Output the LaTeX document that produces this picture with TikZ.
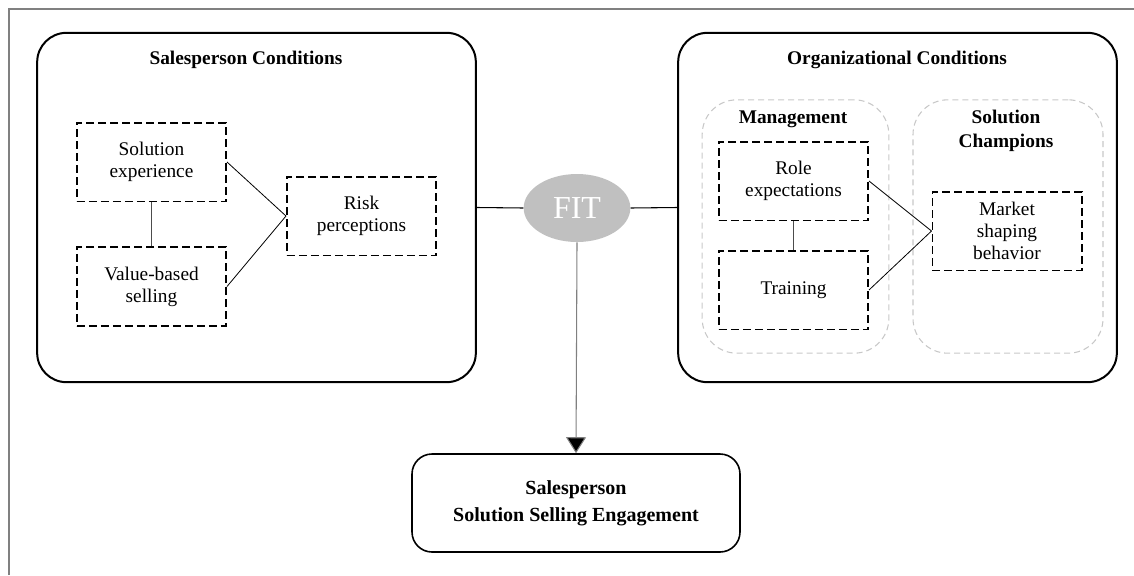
\documentclass[tikz,border=0pt]{standalone}
\usepackage{fontspec}
\setmainfont{Liberation Serif}
\usetikzlibrary{shapes.geometric,arrows.meta}
\definecolor{fitgray}{RGB}{192,192,192}
\definecolor{grouplines}{RGB}{200,200,200}
\tikzset{frame/.style={draw=black, line width=1.5pt, rounded corners=22pt, minimum width=329pt, minimum height=262pt},
factor/.style={draw=black, dash pattern=on 6pt off 3pt, line width=1.25pt, minimum width=112pt, minimum height=59pt, align=center, font=\fontsize{14.5}{16.5}\selectfont},
%light grey groups inside the organizational box
group/.style={draw=grouplines, dash pattern=on 4.5pt off 3pt, line width=0.8pt, rounded corners=26pt, minimum height=190pt},
heading/.style={font=\fontsize{14.5}{17.5}\selectfont\bfseries, align=center},
link/.style={draw=black, line width=0.6pt}}

\begin{document}
\begin{tikzpicture}[x=0.75pt,y=-0.75pt]

\useasboundingbox (0,0) rectangle (1134,575);
\draw[gray, line width=1.5pt] (9,575) -- (9,9) -- (1134,9);

\node[frame] (sales) at (256.5,207.5) {};
\node[frame] (org) at (897.5,207.5) {};
\node[group, minimum width=140pt] (mgmt) at (795.5,226.5) {};
\node[group, minimum width=142.5pt] (champ) at (1008,226.5) {};

\node[heading] (salestitle) at (246,60) {Salesperson Conditions};
\node[heading] (orgtitle) at (897,60) {Organizational Conditions};
\node[heading] (mgmttitle) at (793,119) {Management};
\node[heading] (champtitle) at (1006,131) {Solution\\Champions};

\node[factor] (exp) at (151.5,162) {Solution\\experience};
\node[factor] (value) at (151.5,286.5) {Value-based\\selling};
\node[factor] (risk) at (361.5,216) {Risk\\perceptions};
\node[factor] (role) at (793.5,181) {Role\\expectations};
\node[factor] (train) at (793.5,290) {Training};
\node[factor] (market) at (1007,231) {Market\\shaping\\behavior};

\node[ellipse, fill=fitgray, minimum width=80pt, minimum height=51pt, inner sep=0pt,
  text=white, font=\fontsize{24}{24}\selectfont] (fit) at (577,208) {FIT};

\node[draw=black, line width=1.2pt, rounded corners=15pt, minimum width=246pt, minimum height=73.5pt,
  align=center, font=\fontsize{15}{20}\selectfont\bfseries] (engage) at (576,503)
  {Salesperson\\Solution Selling Engagement};

\foreach \a/\b in {exp/risk, value/risk, role/market, train/market}
    \draw[link] (\a.east) -- (\b.west);

\draw[line width=0.9pt, black!70] (exp.south) -- (value.north);
\draw[line width=0.9pt, black!70] (role.south) -- (train.north);

\draw[link, line width=0.8pt] (sales.east) -- (fit.west);
\draw[link, line width=0.8pt] (fit.east) -- (org.west);
\draw[draw=gray, line width=0.8pt, -{Triangle[width=15pt,length=12pt,fill=black]}] (fit.south) -- (engage.north);

\end{tikzpicture}
\end{document}
